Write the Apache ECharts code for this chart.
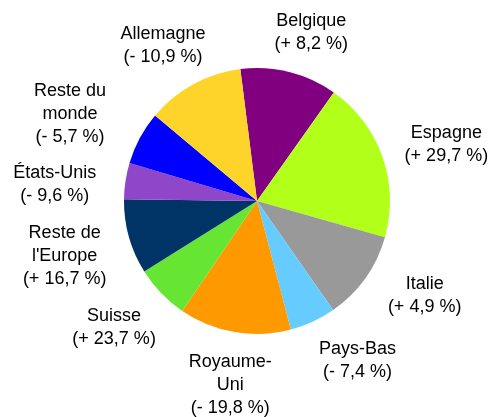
<!DOCTYPE html>
<html>
<head>
<meta charset="utf-8">
<script src="https://cdn.jsdelivr.net/npm/echarts@6/dist/echarts.min.js"></script>
<style>
  html, body { margin: 0; padding: 0; background: #fff; }
  #main { width: 496px; height: 417px; }
</style>
</head>
<body>
<div id="main"></div>
<script>
// share of each partner
var countries = ['Belgique', 'Espagne', 'Italie', 'Pays-Bas', 'Royaume-\nUni', 'Suisse',
                 "Reste de\nl'Europe", 'États-Unis', 'Reste du\nmonde', 'Allemagne'];
var shares = [11.8, 19.6, 10.9, 5.6, 13.6, 6.6, 9.1, 4.4, 6.5, 11.9];
var changes = ['+ 8,2 %', '+ 29,7 %', '+ 4,9 %', '- 7,4 %', '- 19,8 %', '+ 23,7 %',
               '+ 16,7 %', '- 9,6 %', '- 5,7 %', '- 10,9 %'];
var colors = ['#800080', '#b2ff1a', '#999999', '#66ccff', '#ff9900', '#66e633',
              '#003366', '#9046c8', '#0000ff', '#ffd42a'];

// small hand tweaks of the label placement, in px
var labelNudge = [[7, 7], [1, 4], [9, -10], [18, -5], [7, -6], [1, 1],
                  [0, 3], [-5, 11], [-16, 4], [2, 3]];

var cx = 257, cy = 201, radius = 133, startAngle = 97.2;
var total = shares.reduce(function (a, b) { return a + b; }, 0);

var data = countries.map(function (name, i) {
    return { name: name, value: shares[i], itemStyle: { color: colors[i] } };
});

var myChart = echarts.init(document.getElementById('main'));
var option = {
    animation: false,
    series: [{
        type: 'pie',
        center: [cx, cy],
        radius: radius,
        startAngle: startAngle,
        clockwise: true,
        avoidLabelOverlap: false,
        data: data,
        label: {
            show: true,
            position: 'outside',
            color: '#000',
            fontFamily: 'Liberation Sans, Arial, sans-serif',
            fontSize: 18,
            lineHeight: 23,
            formatter: function (p) {
                return p.name + '\n(' + changes[p.dataIndex] + ')';
            }
        },
        labelLine: { show: false },
        labelLayout: function (params) {
            // place each label just outside its slice mid angle
            var i = params.dataIndex;
            var cum = 0;
            for (var k = 0; k < i; k++) cum += shares[k];
            var mid = (90 - startAngle) + (cum + shares[i] / 2) / total * 360;
            var a = mid * Math.PI / 180;
            var ux = Math.sin(a), uy = -Math.cos(a);
            var R = radius + 25;
            var w = params.labelRect.width, h = params.labelRect.height;
            return {
                x: cx + R * ux + ux * w / 2 + labelNudge[i][0],
                y: cy + R * uy + uy * h / 2 + labelNudge[i][1],
                align: 'center',
                verticalAlign: 'middle'
            };
        }
    }]
};
myChart.setOption(option);
</script>
</body>
</html>
